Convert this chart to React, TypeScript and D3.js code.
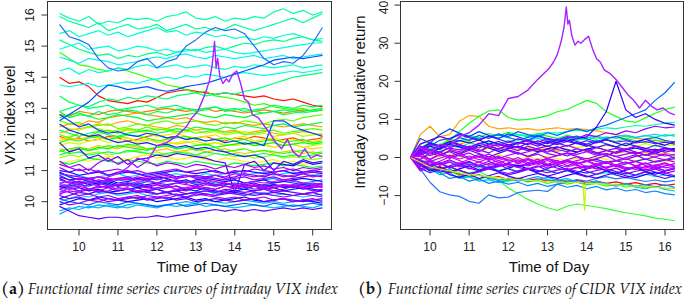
import React from 'react';
import * as d3 from 'd3';

// ---------- DATA ----------
const times = [9.5, 9.75, 10, 10.25, 10.5, 10.75, 11, 11.25, 11.5, 11.75, 12, 12.25, 12.5, 12.75, 13, 13.25, 13.5, 13.75, 14, 14.25, 14.5, 14.75, 15, 15.25, 15.5, 15.75, 16, 16.25];
const xTicks = [10, 11, 12, 13, 14, 15, 16];
const vixTicks = [10, 11, 12, 13, 14, 15, 16];
const cidrTicks = [-10, 0, 10, 20, 30, 40];

// Panel (a): intraday VIX level curves
const vixUpper = [
  [16.05, 15.9, 15.8, 15.95, 15.7, 15.8, 15.75, 15.9, 15.85, 15.9, 15.8, 15.95, 16.0, 16.1, 15.9, 15.85, 15.95, 15.8, 15.9, 15.85, 15.95, 15.9, 16.1, 16.2, 16.05, 16.15, 16.0, 16.1],
  [15.95, 15.8, 15.7, 15.6, 15.75, 15.5, 15.6, 15.7, 15.55, 15.6, 15.7, 15.5, 15.6, 15.7, 15.55, 15.6, 15.5, 15.55, 15.7, 15.6, 15.5, 15.6, 15.7, 15.8, 15.9, 15.75, 15.9, 16.05],
  [15.4, 15.5, 15.3, 15.4, 15.5, 15.35, 15.45, 15.3, 15.4, 15.5, 15.6, 15.45, 15.5, 15.35, 15.45, 15.4, 15.3, 15.35, 15.25, 15.3, 15.2, 15.3, 15.25, 15.35, 15.4, 15.3, 15.2, 15.25],
  [14.9, 15.0, 15.1, 14.9, 14.95, 15.0, 14.85, 14.9, 15.0, 14.95, 14.85, 14.9, 14.8, 14.85, 14.9, 14.8, 14.85, 14.9, 14.8, 14.75, 14.8, 14.85, 14.9, 14.95, 15.0, 15.05, 15.1, 15.1],
  [14.65, 14.55, 14.45, 14.6, 14.55, 14.5, 14.4, 14.45, 14.5, 14.6, 14.65, 14.6, 14.7, 14.75, 14.65, 14.6, 14.7, 14.65, 14.6, 14.65, 14.7, 14.6, 14.65, 14.7, 14.6, 14.65, 14.7, 14.75],
  [14.2, 14.3, 14.1, 14.25, 14.15, 14.2, 14.3, 14.25, 14.35, 14.4, 14.3, 14.35, 14.4, 14.3, 14.35, 14.4, 14.3, 14.25, 14.35, 14.3, 14.4, 14.35, 14.3, 14.35, 14.4, 14.3, 14.35, 14.4],
  [13.75, 13.7, 13.75, 13.8, 13.7, 13.75, 13.8, 13.85, 13.8, 13.9, 13.95, 14.0, 13.95, 14.05, 14.0, 14.1, 14.05, 14.0, 14.1, 14.15, 14.1, 14.05, 14.1, 14.15, 14.2, 14.15, 14.2, 14.25],
  [14.8, 14.6, 14.4, 14.35, 14.25, 14.2, 14.3, 14.2, 14.1, 14.0, 13.9, 13.75, 13.7, 13.6, 13.5, 13.55, 13.4, 13.35, 13.3, 13.2, 13.1, 13.15, 13.05, 13.0, 12.95, 13.0, 12.9, 12.95],
  [14.0, 13.8, 13.85, 13.7, 13.4, 13.25, 13.2, 13.15, 13.25, 13.2, 13.35, 13.5, 13.55, 13.6, 13.55, 13.5, 13.45, 13.5, 13.45, 13.4, 13.35, 13.4, 13.3, 13.25, 13.3, 13.2, 13.1, 13.05],
  [15.7, 15.3, 15.2, 15.05, 14.6, 14.3, 14.2, 14.25, 14.5, 14.6, 14.3, 14.5, 14.6, 15.0, 15.2, 15.45, 15.6, 15.5, 15.55, 15.4, 15.0, 14.6, 14.4, 14.5, 14.45, 14.7, 15.1, 15.6],
  [12.6, 12.8, 13.0, 13.2, 13.5, 13.75, 13.7, 13.6, 13.65, 13.7, 13.6, 13.55, 13.6, 13.7, 13.75, 13.8, 13.9, 14.0, 14.1, 14.2, 14.3, 14.4, 14.55, 14.6, 14.65, 14.6, 14.65, 14.7],
  [13.4, 13.2, 13.1, 13.0, 13.05, 13.1, 12.95, 13.0, 13.05, 13.1, 13.0, 13.05, 13.1, 13.0, 12.95, 13.0, 13.05, 12.9, 12.95, 13.0, 12.9, 12.85, 12.9, 12.95, 12.9, 12.85, 12.9, 12.95],
  [12.9, 13.0, 13.1, 13.05, 13.2, 13.3, 13.25, 13.35, 13.3, 13.4, 13.35, 13.3, 13.4, 13.45, 13.5, 13.4, 13.45, 13.5, 13.45, 13.55, 13.6, 13.7, 13.8, 13.9, 14.0, 14.05, 14.1, 14.15],
  [15.2, 15.05, 14.9, 14.8, 14.7, 14.75, 14.6, 14.7, 14.65, 14.75, 14.8, 14.7, 14.8, 14.9, 14.85, 14.95, 15.0, 14.9, 15.0, 15.1, 15.05, 15.15, 15.2, 15.15, 15.25, 15.3, 15.2, 15.15],
];
const vixUpperColors = ['#00FFAA', '#00FF99', '#00FFCC', '#00FFE0', '#00F0FF', '#00FFD5', '#00FFEE', '#33FF00', '#FF1100', '#1E6EFF', '#0050FF', '#00FF66', '#00FF77', '#00FF88'];

const vixMiddle = [
  [12.4, 12.5, 12.45, 12.6, 12.55, 12.7, 12.75, 12.8, 12.85, 12.8, 12.75, 12.7, 12.65, 12.7, 12.6, 12.55, 12.6, 12.5, 12.55, 12.5, 12.45, 12.5, 12.45, 12.4, 12.45, 12.5, 12.45, 12.4],
  [12.2, 12.3, 12.35, 12.4, 12.5, 12.45, 12.55, 12.6, 12.5, 12.45, 12.4, 12.35, 12.45, 12.4, 12.3, 12.35, 12.3, 12.25, 12.3, 12.2, 12.25, 12.3, 12.2, 12.15, 12.2, 12.25, 12.2, 12.15],
  [12.0, 12.1, 12.2, 12.1, 12.15, 12.25, 12.2, 12.3, 12.25, 12.2, 12.1, 12.15, 12.2, 12.1, 12.05, 12.1, 12.15, 12.0, 12.05, 12.1, 11.95, 12.0, 12.05, 11.95, 12.0, 11.9, 11.95, 12.0],
  [11.8, 11.9, 11.85, 11.95, 12.0, 11.9, 11.95, 12.05, 11.9, 11.95, 12.0, 11.85, 11.9, 11.95, 11.85, 11.8, 11.9, 11.85, 11.8, 11.85, 11.9, 11.8, 11.75, 11.8, 11.85, 11.75, 11.8, 11.85],
  [12.6, 12.5, 12.55, 12.4, 12.45, 12.5, 12.35, 12.4, 12.5, 12.45, 12.55, 12.6, 12.5, 12.55, 12.6, 12.5, 12.45, 12.55, 12.5, 12.6, 12.55, 12.5, 12.6, 12.65, 12.6, 12.7, 12.75, 12.8],
  [11.6, 11.7, 11.75, 11.65, 11.7, 11.8, 11.75, 11.85, 11.8, 11.7, 11.75, 11.8, 11.7, 11.75, 11.65, 11.7, 11.75, 11.6, 11.65, 11.7, 11.6, 11.65, 11.6, 11.55, 11.6, 11.65, 11.55, 11.6],
  [12.9, 12.7, 12.8, 12.75, 12.65, 12.7, 12.8, 12.75, 12.7, 12.6, 12.65, 12.7, 12.75, 12.8, 12.85, 12.75, 12.7, 12.8, 12.75, 12.7, 12.8, 12.85, 12.9, 12.8, 12.85, 12.9, 12.95, 13.0],
  [12.3, 12.2, 12.1, 12.2, 12.25, 12.15, 12.1, 12.2, 12.25, 12.3, 12.2, 12.25, 12.35, 12.3, 12.4, 12.35, 12.3, 12.4, 12.35, 12.45, 12.4, 12.35, 12.45, 12.5, 12.4, 12.45, 12.5, 12.55],
  [11.4, 11.5, 11.45, 11.55, 11.6, 11.5, 11.55, 11.6, 11.65, 11.55, 11.6, 11.5, 11.55, 11.6, 11.5, 11.45, 11.55, 11.5, 11.45, 11.5, 11.4, 11.45, 11.5, 11.4, 11.45, 11.4, 11.35, 11.4],
  [12.1, 12.0, 12.05, 11.95, 12.0, 12.1, 12.05, 11.95, 12.0, 12.1, 12.15, 12.05, 12.1, 12.0, 12.05, 12.1, 12.0, 11.95, 12.05, 12.0, 12.1, 12.05, 11.95, 12.0, 12.05, 11.95, 12.0, 12.05],
  [12.8, 12.75, 12.9, 12.85, 12.8, 12.9, 12.95, 12.9, 12.85, 12.9, 12.95, 13.0, 12.95, 12.9, 12.95, 13.0, 12.9, 12.95, 12.9, 12.85, 12.9, 12.95, 12.9, 12.85, 12.9, 12.95, 12.9, 12.95],
  [11.2, 11.3, 11.35, 11.3, 11.4, 11.45, 11.4, 11.35, 11.45, 11.5, 11.4, 11.45, 11.35, 11.4, 11.45, 11.35, 11.3, 11.4, 11.35, 11.3, 11.25, 11.3, 11.35, 11.25, 11.3, 11.2, 11.25, 11.3],
  [12.7, 12.8, 12.85, 12.75, 12.9, 12.8, 12.85, 12.95, 12.9, 12.8, 12.9, 12.85, 12.95, 13.0, 12.9, 12.95, 13.05, 12.95, 13.0, 12.9, 12.95, 13.0, 13.1, 13.05, 13.0, 13.1, 13.05, 13.1],
  [12.5, 12.3, 12.2, 12.1, 12.15, 12.0, 11.9, 11.95, 11.85, 11.9, 11.8, 11.85, 11.75, 11.8, 11.7, 11.75, 11.65, 11.6, 11.5, 11.45, 11.5, 11.4, 11.0, 11.3, 11.2, 11.35, 11.25, 11.3],
  [12.8, 12.6, 12.4, 12.5, 12.3, 12.2, 12.25, 12.15, 12.1, 12.2, 12.15, 12.05, 12.1, 12.0, 12.05, 11.95, 12.0, 11.9, 11.95, 11.85, 11.9, 11.8, 12.6, 12.6, 12.4, 12.3, 12.2, 12.1],
  [11.9, 12.0, 11.95, 12.05, 12.1, 12.0, 12.05, 12.15, 12.1, 12.05, 11.95, 12.0, 12.05, 12.1, 12.0, 11.95, 12.0, 12.05, 11.95, 12.0, 11.9, 11.95, 12.0, 11.9, 11.95, 12.0, 11.9, 11.95],
  [11.5, 11.6, 11.7, 11.65, 11.75, 11.7, 11.8, 11.75, 11.7, 11.65, 11.75, 11.8, 11.7, 11.75, 11.8, 11.85, 11.75, 11.8, 11.85, 11.9, 11.8, 11.85, 11.9, 11.8, 11.85, 11.9, 11.85, 11.9],
  [11.7, 11.65, 11.75, 11.7, 11.8, 11.75, 11.7, 11.8, 11.75, 11.7, 11.65, 11.7, 11.6, 11.65, 11.7, 11.6, 11.65, 11.7, 11.6, 11.55, 11.6, 11.65, 11.55, 11.6, 11.65, 11.55, 11.6, 11.55],
  [12.45, 12.35, 12.3, 12.4, 12.35, 12.25, 12.3, 12.35, 12.3, 12.25, 12.35, 12.3, 12.2, 12.25, 12.3, 12.2, 12.25, 12.15, 12.2, 12.25, 12.15, 12.2, 12.1, 12.15, 12.2, 12.1, 12.15, 12.2],
  [11.3, 11.2, 11.3, 11.4, 11.35, 11.3, 11.25, 11.35, 11.3, 11.25, 11.2, 11.3, 11.25, 11.2, 11.3, 11.25, 11.2, 11.15, 11.25, 11.2, 11.15, 11.2, 11.25, 11.15, 11.2, 11.15, 11.1, 11.15],
  [11.9, 11.6, 11.7, 11.4, 11.5, 11.3, 11.45, 11.2, 11.35, 11.4, 11.5, 11.45, 11.55, 11.5, 11.45, 11.4, 11.3, 11.25, 10.3, 11.2, 11.3, 11.0, 11.25, 11.2, 11.15, 11.3, 11.2, 11.25],
  [12.15, 12.05, 12.2, 12.1, 12.25, 12.3, 12.2, 12.35, 12.3, 12.4, 12.3, 12.35, 12.25, 12.3, 12.2, 12.25, 12.3, 12.2, 12.25, 12.15, 12.2, 12.25, 12.3, 12.2, 12.25, 12.3, 12.35, 12.3],
  [11.65, 11.55, 11.6, 11.5, 11.55, 11.6, 11.55, 11.65, 11.6, 11.55, 11.5, 11.55, 11.6, 11.55, 11.5, 11.6, 11.55, 11.5, 11.55, 11.45, 11.5, 11.55, 11.5, 11.45, 11.5, 11.45, 11.5, 11.55],
  [11.95, 12.05, 12.0, 12.1, 12.05, 12.0, 12.1, 12.05, 11.95, 12.0, 11.9, 11.95, 11.85, 11.9, 11.95, 11.85, 11.9, 11.8, 11.85, 11.9, 11.8, 11.85, 11.75, 11.8, 11.85, 11.75, 11.7, 11.75],
];
const vixMiddleColors = ['#FF9900', '#FFAA00', '#FFE000', '#CCFF00', '#66FF00', '#33FF00', '#00FF22', '#00FF44', '#99FF00', '#FF5500', '#FF7700', '#FFF000', '#00FF55', '#2222FF', '#0044FF', '#22FF00', '#00FF11', '#FFC000', '#AAFF00', '#00FF33', '#4400FF', '#55FF00', '#00FF44', '#FFD000'];

const vixLower = [
  [9.85, 9.7, 9.55, 9.5, 9.45, 9.5, 9.5, 9.45, 9.5, 9.5, 9.55, 9.5, 9.55, 9.6, 9.65, 9.7, 9.75, 9.7, 9.75, 9.7, 9.75, 9.7, 9.75, 9.8, 9.75, 9.8, 9.75, 9.8],
  [9.7, 9.8, 9.75, 9.85, 9.8, 9.9, 9.85, 9.8, 9.9, 9.85, 9.8, 9.9, 9.85, 9.9, 9.95, 9.85, 9.9, 9.85, 9.8, 9.85, 9.9, 9.85, 9.8, 9.85, 9.9, 9.85, 9.8, 9.9],
  [10.1, 10.0, 9.95, 9.9, 10.0, 9.95, 9.9, 10.0, 9.95, 9.9, 9.85, 9.9, 9.95, 9.85, 9.9, 9.95, 9.9, 9.85, 9.9, 9.95, 9.9, 9.85, 9.95, 9.9, 9.85, 9.9, 9.95, 9.9],
  [10.4, 10.3, 10.2, 10.25, 10.15, 10.2, 10.1, 10.15, 10.2, 10.1, 10.15, 10.2, 10.25, 10.15, 10.2, 10.25, 10.2, 10.3, 10.25, 10.2, 10.3, 10.25, 10.2, 10.15, 10.2, 10.25, 10.2, 10.15],
  [10.7, 10.6, 10.55, 10.65, 10.6, 10.5, 10.55, 10.6, 10.5, 10.45, 10.55, 10.5, 10.6, 10.55, 10.5, 10.6, 10.55, 10.5, 10.45, 10.5, 10.55, 10.5, 10.45, 10.5, 10.55, 10.5, 10.45, 10.5],
  [10.9, 10.85, 10.8, 10.75, 10.8, 10.7, 10.75, 10.8, 10.7, 10.75, 10.8, 10.85, 10.75, 10.8, 10.85, 10.8, 10.75, 10.7, 10.75, 10.8, 10.7, 10.75, 10.8, 10.7, 10.75, 10.8, 10.85, 10.8],
  [10.5, 10.4, 10.45, 10.35, 10.4, 10.3, 10.35, 10.4, 10.45, 10.35, 10.4, 10.3, 10.35, 10.4, 10.45, 10.4, 10.35, 10.3, 10.35, 10.4, 10.35, 10.4, 10.45, 10.35, 10.4, 10.45, 10.4, 10.35],
  [10.2, 10.1, 10.15, 10.05, 10.1, 10.0, 10.05, 10.1, 10.15, 10.05, 10.1, 10.15, 10.05, 10.1, 10.0, 10.05, 10.1, 10.05, 10.0, 10.05, 10.1, 10.0, 10.05, 10.1, 10.05, 10.0, 10.05, 10.1],
  [10.6, 10.5, 10.6, 10.7, 10.65, 10.6, 10.7, 10.65, 10.6, 10.7, 10.75, 10.65, 10.7, 10.6, 10.65, 10.7, 10.6, 10.65, 10.7, 10.6, 10.65, 10.7, 10.75, 10.65, 10.7, 10.6, 10.65, 10.7],
  [10.3, 10.45, 10.5, 10.4, 10.45, 10.5, 10.4, 10.45, 10.35, 10.4, 10.45, 10.5, 10.4, 10.45, 10.5, 10.45, 10.4, 10.5, 10.45, 10.55, 10.5, 10.45, 10.5, 10.55, 10.5, 10.45, 10.5, 10.55],
  [11.0, 10.95, 10.85, 10.9, 10.95, 10.85, 10.9, 10.95, 10.9, 10.85, 10.9, 10.95, 11.0, 10.95, 10.9, 10.95, 11.0, 10.9, 10.95, 11.0, 10.95, 10.9, 10.95, 11.0, 10.9, 10.95, 11.0, 10.95],
  [10.0, 10.1, 10.2, 10.15, 10.25, 10.3, 10.2, 10.25, 10.3, 10.2, 10.25, 10.3, 10.2, 10.25, 10.3, 10.35, 10.25, 10.3, 10.25, 10.2, 10.25, 10.3, 10.2, 10.25, 10.2, 10.15, 10.2, 10.25],
  [10.8, 10.7, 10.6, 10.4, 10.5, 10.45, 10.35, 10.4, 10.3, 10.35, 10.4, 10.3, 10.35, 10.25, 10.3, 10.35, 10.3, 10.4, 10.35, 10.3, 10.35, 10.4, 10.3, 10.35, 10.3, 10.25, 10.3, 10.35],
  [9.9, 10.0, 10.1, 10.05, 10.15, 10.1, 10.05, 10.0, 10.05, 10.1, 10.0, 10.05, 10.1, 10.15, 10.05, 10.1, 10.0, 10.05, 10.1, 10.15, 10.05, 10.0, 10.05, 10.1, 10.0, 10.05, 10.0, 9.95],
  [10.6, 10.65, 10.75, 10.7, 10.8, 10.75, 10.7, 10.75, 10.65, 10.7, 10.6, 10.65, 10.7, 10.6, 10.65, 10.7, 10.65, 10.6, 10.55, 10.6, 10.65, 10.6, 10.65, 10.7, 10.65, 10.6, 10.55, 10.6],
  [10.4, 10.5, 10.55, 10.5, 10.6, 10.55, 10.5, 10.6, 10.55, 10.65, 10.6, 10.55, 10.6, 10.65, 10.55, 10.6, 10.5, 10.55, 10.6, 10.55, 10.5, 10.55, 10.6, 10.65, 10.6, 10.55, 10.6, 10.55],
  [11.2, 11.1, 11.0, 11.05, 10.95, 11.0, 11.05, 10.95, 11.0, 10.9, 10.95, 11.0, 11.05, 10.95, 11.0, 11.05, 10.95, 10.9, 11.0, 10.95, 11.05, 11.0, 10.95, 11.0, 11.05, 10.95, 11.0, 11.05],
  [9.6, 9.75, 9.85, 9.8, 9.9, 9.85, 9.8, 9.9, 9.95, 9.9, 9.85, 9.9, 9.95, 10.0, 9.95, 10.05, 10.0, 9.95, 10.0, 10.05, 10.0, 9.95, 10.0, 9.95, 10.0, 10.05, 10.0, 10.05],
  [10.1, 10.2, 10.3, 10.25, 10.35, 10.3, 10.25, 10.3, 10.35, 10.3, 10.25, 10.3, 10.2, 10.25, 10.3, 10.25, 10.2, 10.25, 10.3, 10.25, 10.2, 10.25, 10.3, 10.25, 10.2, 10.25, 10.3, 10.2],
  [11.3, 11.1, 11.2, 11.0, 11.25, 11.4, 11.2, 11.35, 11.1, 11.3, 11.15, 11.25, 11.2, 11.1, 11.2, 11.15, 11.05, 11.15, 11.1, 11.2, 11.1, 11.15, 11.05, 11.1, 11.0, 11.1, 11.05, 11.1],
  [10.75, 10.6, 10.65, 10.55, 10.6, 10.65, 10.55, 10.6, 10.5, 10.55, 10.6, 10.7, 10.65, 10.6, 10.7, 10.75, 10.7, 10.65, 10.7, 10.6, 10.65, 10.7, 10.6, 10.65, 10.7, 10.75, 10.7, 10.65],
  [10.9, 10.8, 10.85, 10.75, 10.8, 10.85, 10.9, 10.8, 10.85, 10.9, 10.95, 10.85, 10.9, 10.85, 10.8, 10.9, 10.85, 10.9, 10.95, 10.85, 10.9, 10.95, 10.85, 10.9, 10.95, 10.9, 10.85, 10.9],
  [10.55, 10.45, 10.35, 10.4, 10.3, 10.35, 10.45, 10.4, 10.3, 10.35, 10.25, 10.3, 10.4, 10.35, 10.45, 10.4, 10.3, 10.35, 10.45, 10.5, 10.4, 10.45, 10.35, 10.4, 10.5, 10.45, 10.35, 10.4],
  [10.25, 10.35, 10.3, 10.4, 10.35, 10.45, 10.55, 10.5, 10.6, 10.5, 10.55, 10.45, 10.5, 10.4, 10.45, 10.55, 10.5, 10.6, 10.55, 10.45, 10.5, 10.4, 10.45, 10.55, 10.5, 10.6, 10.55, 10.45],
  [10.95, 10.8, 10.7, 10.75, 10.65, 10.7, 10.6, 10.65, 10.75, 10.7, 10.8, 10.75, 10.65, 10.7, 10.6, 10.65, 10.55, 10.6, 10.5, 10.55, 10.6, 10.5, 10.55, 10.45, 10.5, 10.4, 10.45, 10.5],
  [10.0, 9.9, 9.95, 10.05, 10.0, 10.1, 10.05, 10.15, 10.1, 10.2, 10.15, 10.1, 10.2, 10.15, 10.25, 10.2, 10.15, 10.1, 10.15, 10.05, 10.1, 10.15, 10.05, 10.1, 10.0, 10.05, 10.1, 10.0],
  [10.85, 10.7, 10.75, 10.65, 10.55, 10.6, 10.5, 10.55, 10.45, 10.5, 10.4, 10.45, 10.5, 10.4, 10.35, 10.45, 10.4, 10.5, 10.45, 10.4, 10.5, 10.45, 10.55, 10.5, 10.45, 10.55, 10.5, 10.6],
  [11.1, 10.95, 11.05, 10.9, 11.0, 10.85, 10.95, 11.0, 10.9, 10.8, 10.85, 10.9, 10.8, 10.85, 10.75, 10.8, 10.85, 10.75, 10.8, 10.9, 10.85, 10.8, 10.9, 10.85, 10.8, 10.9, 10.95, 10.9],
  [10.45, 10.55, 10.65, 10.6, 10.7, 10.65, 10.75, 10.7, 10.8, 10.75, 10.7, 10.8, 10.75, 10.85, 10.8, 10.75, 10.85, 10.8, 10.9, 10.85, 10.8, 10.85, 10.9, 10.8, 10.85, 10.9, 10.8, 10.85],
];
const vixLowerColors = ['#5500FF', '#00BBFF', '#0066FF', '#9900FF', '#AA00FF', '#8800FF', '#0000FF', '#6600FF', '#0088FF', '#BB00FF', '#3300FF', '#00CCFF', '#7700FF', '#1100FF', '#CC00FF', '#0044FF', '#9900FF', '#00AAFF', '#4400FF', '#A000FF', '#2200FF', '#00DDFF', '#8800FF', '#AA00FF', '#3300FF', '#9900FF', '#0022FF', '#7700FF', '#B000FF'];

// The day with the afternoon spike (finer time resolution)
const spikeTimes = [9.5, 9.75, 10, 10.25, 10.5, 10.75, 11, 11.25, 11.5, 11.75, 12, 12.25, 12.5, 12.75, 12.9, 13.05, 13.15, 13.25, 13.35, 13.42, 13.48, 13.52, 13.56, 13.62, 13.7, 13.78, 13.85, 13.95, 14.05, 14.15, 14.25, 14.35, 14.45, 14.6, 14.75, 14.9, 15.05, 15.2, 15.35, 15.5, 15.65, 15.8, 15.95, 16.1, 16.25];
const spikeVix = [10.2, 10.5, 10.3, 10.6, 10.5, 10.8, 10.9, 11.1, 11.4, 11.3, 11.8, 11.9, 12.1, 12.4, 12.7, 12.9, 13.2, 13.5, 13.9, 14.4, 15.15, 14.3, 14.6, 14.0, 13.8, 13.95, 13.85, 14.1, 14.2, 13.8, 13.3, 13.2, 12.8, 12.7, 12.45, 12.2, 11.9, 11.7, 12.0, 11.6, 11.45, 11.7, 11.4, 11.5, 11.45];
const spikeCidr = [0, 2.5, 1.0, 3.5, 2.8, 5.5, 6.5, 8.5, 11.5, 11.0, 15.5, 16.0, 17.7, 20.5, 22.0, 23.5, 25.0, 27.0, 30.5, 34.0, 39.5, 35.0, 36.0, 32.0, 29.5, 30.5, 30.0, 31.0, 31.8, 28.5, 26.0, 25.0, 23.0, 22.0, 20.5, 18.5, 16.5, 15.0, 13.0, 15.0, 13.5, 12.5, 13.0, 11.8, 11.2];
const spikeColor = '#AA22FF';

// Panel (b): cumulative intraday returns
const cidrCluster = [
  [0, 2.5, 1.8, 3.0, 2.2, 1.5, 2.8, 2.0, 1.2, 2.5, 1.8, 0.9, 1.5, 2.2, 1.0, 0.5, 1.2, 0.8, 1.5, 0.6, 1.0, 0.3, 0.9, 1.4, 0.6, 1.1, 0.4, 0.8],
  [0, -1.5, -0.8, -2.0, -1.2, -2.5, -1.8, -2.2, -3.0, -2.4, -1.8, -2.6, -3.2, -2.5, -2.0, -2.8, -3.4, -2.7, -2.2, -3.0, -2.5, -1.9, -2.6, -3.1, -2.4, -2.0, -2.7, -2.3],
  [0, 1.0, 3.5, 2.8, 4.0, 3.2, 2.5, 3.8, 3.0, 2.2, 3.1, 2.6, 1.8, 2.4, 3.0, 2.1, 1.5, 2.3, 1.7, 1.0, 1.8, 2.4, 1.6, 1.0, 1.7, 2.2, 1.4, 1.9],
  [0, -3.0, -2.2, -3.5, -4.0, -3.2, -4.5, -3.8, -3.0, -3.6, -4.2, -3.5, -2.8, -3.4, -4.0, -3.3, -2.9, -3.6, -4.1, -3.4, -3.0, -3.7, -4.3, -3.6, -3.1, -3.8, -4.2, -3.5],
  [0, 0.5, -0.5, 0.8, -0.2, 0.6, -0.4, 0.3, -0.8, 0.1, -0.6, -1.2, -0.5, -1.0, -0.3, -0.9, -1.5, -0.8, -0.2, -1.0, -1.6, -0.9, -0.4, -1.1, -1.7, -1.0, -0.5, -1.2],
  [0, 3.5, 4.5, 5.5, 4.8, 6.0, 5.2, 4.5, 5.6, 4.8, 4.0, 4.9, 4.2, 3.5, 4.3, 3.8, 3.0, 3.9, 3.3, 2.6, 3.4, 2.8, 2.1, 3.0, 2.4, 1.8, 2.5, 2.0],
  [0, -2.0, -3.5, -2.8, -4.5, -5.2, -4.4, -5.5, -4.8, -4.0, -4.9, -5.6, -4.8, -4.2, -5.0, -5.5, -4.7, -4.1, -4.9, -5.4, -4.6, -4.0, -4.8, -5.3, -4.5, -3.9, -4.6, -5.0],
  [0, 2.0, 1.0, 2.5, 3.5, 2.8, 2.0, 3.2, 2.5, 1.6, 2.4, 3.0, 2.2, 1.5, 2.3, 2.8, 2.0, 1.4, 2.2, 2.7, 1.9, 1.2, 2.0, 2.5, 1.8, 1.1, 1.9, 2.4],
  [0, -0.8, -2.0, -1.4, -2.6, -2.0, -1.2, -2.1, -2.8, -2.2, -1.5, -2.4, -1.8, -1.2, -2.0, -1.5, -0.8, -1.6, -1.0, -0.5, -1.3, -0.8, -1.5, -1.0, -0.4, -1.2, -0.7, -0.3],
  [0, 1.5, 3.0, 4.5, 5.0, 6.2, 5.5, 4.8, 5.5, 6.0, 5.2, 4.6, 5.3, 5.8, 5.0, 4.4, 5.2, 5.6, 4.9, 4.2, 5.0, 5.5, 4.7, 4.0, 4.8, 5.3, 4.5, 4.0],
  [0, -1.0, -2.5, -3.8, -3.0, -4.2, -5.0, -4.5, -5.5, -6.0, -5.4, -6.2, -5.6, -5.0, -5.8, -6.4, -5.9, -6.5, -7.0, -6.4, -6.8, -7.3, -6.8, -7.5, -7.1, -7.7, -7.2, -7.8],
  [0, 0.8, 2.0, 1.5, 2.6, 3.4, 2.8, 3.6, 4.2, 3.5, 4.4, 3.8, 4.6, 5.0, 4.3, 4.9, 5.3, 4.7, 5.2, 5.6, 5.0, 5.5, 5.9, 5.3, 5.7, 6.1, 5.6, 6.0],
  [0, -1.2, -0.5, -1.8, -1.0, -2.2, -1.6, -2.8, -2.2, -3.4, -2.8, -3.6, -3.0, -3.8, -3.2, -4.0, -3.5, -4.2, -3.8, -4.5, -4.0, -4.6, -4.2, -4.8, -4.4, -5.0, -4.6, -5.2],
  [0, 1.2, 2.5, 2.0, 3.2, 2.6, 3.8, 3.2, 4.2, 3.6, 4.4, 3.9, 4.6, 4.0, 4.8, 4.3, 5.0, 4.5, 5.3, 4.8, 5.4, 5.0, 5.6, 5.2, 5.8, 5.3, 6.0, 5.6],
  [0, -2.2, -3.0, -4.0, -3.5, -4.8, -5.2, -5.6, -5.0, -5.8, -6.2, -5.7, -6.4, -6.0, -6.8, -6.3, -7.0, -6.5, -7.2, -6.8, -7.5, -7.0, -7.8, -7.3, -8.0, -7.6, -8.3, -7.9],
  [0, 0.5, 1.5, 0.8, 1.8, 1.2, 2.2, 1.6, 2.4, 1.8, 2.6, 2.0, 2.8, 2.2, 3.0, 2.4, 3.2, 2.6, 3.0, 2.5, 3.2, 2.7, 3.4, 2.9, 3.6, 3.0, 3.4, 3.1],
  [0, 6.0, 8.2, 5.5, 4.5, 3.5, 4.2, 3.0, 2.5, 3.4, 2.8, 2.0, 2.6, 1.8, 2.4, 1.6, 2.2, 1.5, 2.0, 1.2, 1.8, 1.0, 1.6, 0.8, 1.4, 0.6, 1.2, 0.5],
  [0, -1.8, -3.0, -2.4, -3.6, -4.5, -5.0, -4.6, -5.4, -5.0, -5.8, -5.5, -6.0, -5.6, -6.2, -5.8, -6.4, -6.0, -6.6, -6.2, -6.8, -6.4, -7.0, -6.6, -7.2, -6.8, -7.4, -7.0],
  [0, -0.5, 0.6, -0.2, 0.9, 0.3, -0.4, 0.5, -0.3, 0.7, 0.0, -0.6, 0.2, -0.5, 0.4, -0.3, -0.9, -0.2, -0.7, 0.1, -0.5, -1.1, -0.4, -0.9, -0.2, -0.8, -1.3, -0.6],
  [0, 2.5, 4.0, 3.2, 4.8, 4.2, 5.8, 5.2, 6.3, 5.7, 6.6, 6.0, 5.4, 6.2, 5.6, 5.0, 5.8, 5.2, 4.6, 5.4, 4.8, 4.2, 5.0, 4.4, 3.8, 4.6, 4.0, 3.6],
  [0, 5.0, 3.8, 6.0, 7.5, 6.4, 5.5, 6.8, 5.8, 5.0, 6.2, 5.4, 4.6, 5.6, 4.8, 4.0, 5.0, 4.2, 3.5, 4.4, 3.6, 2.8, 3.8, 3.0, 2.3, 3.2, 2.6, 2.0],
  [0, -3.5, -2.5, -1.5, -2.8, -1.8, -3.0, -2.0, -1.0, -2.2, -1.4, -0.6, -1.8, -1.0, -0.2, -1.4, -0.6, 0.2, -1.0, -0.3, 0.5, -0.8, 0.0, 0.7, -0.5, 0.2, 0.9, -0.2],
  [0, 1.8, 0.5, 1.5, 0.2, 1.2, -0.2, 0.8, -0.6, 0.4, -1.0, 0.0, -1.4, -0.4, -1.8, -0.8, -2.2, -1.2, -2.5, -1.6, -2.8, -2.0, -3.0, -2.4, -3.3, -2.6, -3.5, -2.9],
  [0, -0.5, 1.2, 0.4, 1.8, 1.0, 2.4, 1.6, 3.0, 2.2, 3.4, 2.6, 3.8, 3.0, 4.0, 3.4, 4.2, 3.6, 4.4, 3.8, 4.6, 4.0, 4.4, 3.8, 4.2, 3.6, 4.0, 3.5],
  [0, -2.5, -1.2, -2.0, -0.8, -1.6, -0.4, -1.2, -2.0, -1.4, -0.6, -1.5, -2.2, -1.6, -0.8, -1.8, -2.5, -1.8, -1.0, -2.0, -2.6, -1.9, -1.2, -2.2, -2.8, -2.0, -1.4, -2.3],
  [0, -1.5, -3.0, -4.5, -4.0, -5.5, -5.0, -6.2, -5.8, -6.6, -6.0, -5.5, -6.3, -5.8, -5.2, -6.0, -5.5, -6.4, -6.8, -6.2, -7.0, -7.5, -7.0, -7.8, -8.2, -7.6, -8.4, -8.8],
  [0, 1.2, -0.5, 0.8, 1.5, 0.4, 1.2, 0.0, 0.9, -0.3, 0.6, 1.3, 0.2, 0.9, -0.2, 0.5, 1.1, 0.3, -0.4, 0.4, 1.0, 0.2, -0.5, 0.3, 0.8, 0.0, -0.6, 0.2],
  [0, -1.0, -2.2, -1.5, -0.6, -1.8, -1.0, -2.4, -1.6, -0.8, -1.9, -2.6, -1.8, -1.1, -2.3, -1.5, -0.9, -2.0, -2.8, -2.0, -1.3, -2.4, -1.7, -1.0, -2.1, -2.9, -2.2, -1.6],
  [0, 3.0, 2.0, 1.2, 2.6, 3.4, 2.4, 1.5, 2.8, 3.6, 2.6, 1.8, 3.0, 2.2, 1.4, 2.5, 3.2, 2.3, 1.6, 2.6, 1.9, 1.2, 2.2, 2.9, 2.0, 1.4, 2.3, 1.7],
  [0, -2.0, -1.0, -3.0, -2.2, -1.4, -2.8, -3.5, -2.6, -1.8, -3.0, -3.8, -3.0, -2.2, -3.4, -4.2, -3.3, -2.5, -3.6, -4.4, -3.5, -2.8, -3.9, -4.6, -3.7, -3.0, -4.0, -4.8],
  [0, 0.6, 1.8, 0.9, -0.2, 0.8, 1.9, 1.0, 0.1, 1.1, 2.0, 1.2, 0.3, 1.3, 2.1, 1.2, 0.4, 1.4, 2.2, 1.3, 0.5, 1.5, 2.3, 1.4, 0.6, 1.6, 2.4, 1.5],
  [0, -0.6, -1.8, -1.0, 0.2, -0.8, -2.0, -1.2, -0.2, -1.3, -2.4, -1.5, -0.6, -1.7, -2.8, -1.9, -1.0, -2.1, -3.0, -2.2, -1.3, -2.3, -3.2, -2.4, -1.5, -2.5, -3.4, -2.6],
  [0, -1.5, -3.5, -2.5, -3.8, -3.0, -2.2, -3.3, -2.5, -3.6, -2.8, -2.0, -3.0, -3.8, -2.9, -2.1, -3.2, -4.0, -3.0, -2.4, -3.5, -4.2, -3.3, -2.6, -3.7, -4.4, -3.6, -2.9],
  [0, 2.2, 3.8, 3.0, 4.2, 3.4, 2.6, 3.6, 4.4, 3.5, 2.8, 3.8, 4.5, 3.6, 2.9, 3.9, 4.6, 3.7, 3.0, 4.0, 4.7, 3.8, 3.1, 4.1, 4.8, 3.9, 3.2, 4.2],
  [0, 0.3, -1.0, -0.2, 0.6, -0.4, 0.4, -0.6, 0.2, -0.8, 0.0, -1.0, -0.2, -1.2, -0.4, -1.4, -0.6, -1.6, -0.8, -1.8, -1.0, -2.0, -1.2, -2.2, -1.4, -2.4, -1.6, -2.5],
  [0, -2.8, -4.0, -3.2, -2.4, -3.4, -4.2, -3.6, -2.8, -3.8, -4.6, -3.9, -3.1, -4.1, -4.9, -4.2, -3.4, -4.4, -5.1, -4.4, -3.6, -4.6, -5.3, -4.6, -3.8, -4.8, -5.5, -4.8],
];
const cidrClusterColors = ['#9900FF', '#AA00FF', '#8800FF', '#7700FF', '#BB00FF', '#5500FF', '#3300FF', '#0000FF', '#0033FF', '#0066FF', '#0099FF', '#00CCFF', '#00FFCC', '#00FF66', '#33FF00', '#CCFF00', '#FF9900', '#FF0000', '#FFEE00', '#00FF22', '#0044FF', '#9900FF', '#AA00FF', '#6600FF', '#CC00FF', '#00BBFF', '#9900FF', '#8800FF', '#AA00FF', '#7700FF', '#6600FF', '#BB00FF', '#0000FF', '#2200FF', '#CC00FF', '#5500FF'];

const cidrOutliers = [
  [0, 1.0, 2.2, 3.0, 4.5, 6.8, 9.0, 10.8, 12.2, 12.5, 10.5, 9.8, 10.0, 10.4, 11.0, 12.0, 12.6, 13.8, 15.0, 14.2, 12.0, 10.8, 9.6, 9.2, 10.4, 11.6, 12.6, 13.2],
  [0, 3.5, 4.5, 5.5, 6.0, 9.5, 11.0, 10.8, 8.2, 7.5, 7.8, 7.4, 7.6, 7.2, 7.5, 7.8, 7.4, 7.6, 7.3, 7.0, 6.5, 6.0, 5.5, 5.0, 4.8, 4.5, 4.2, 4.0],
  [0, -3.0, -6.5, -9.0, -9.8, -10.2, -11.5, -12.0, -9.8, -10.6, -10.4, -9.2, -8.8, -8.6, -8.9, -7.0, -6.5, -5.8, -6.2, -5.5, -5.0, -5.6, -5.2, -5.8, -6.3, -5.9, -6.4, -6.0],
  [0, -1.5, -3.0, -4.0, -5.5, -5.0, -6.2, -5.6, -6.8, -6.2, -7.0, -6.5, -7.4, -6.8, -7.6, -7.0, -7.8, -7.3, -8.2, -7.6, -8.5, -8.0, -8.8, -8.4, -9.2, -8.8, -9.5, -9.8],
  [0, -1.0, -2.0, -3.0, -2.5, -3.5, -4.0, -3.6, -5.0, -6.0, -8.0, -9.5, -11.0, -12.2, -13.2, -13.9, -12.8, -12.2, -12.6, -13.0, -13.4, -14.0, -14.5, -14.9, -15.3, -15.9, -16.2, -16.6],
  [0, 1.5, 3.0, 2.2, 3.6, 4.5, 3.8, 4.6, 3.5, 4.2, 3.2, 4.0, 3.4, 4.4, 3.6, 4.8, 4.2, 5.0, 5.4, 8.0, 12.0, 20.0, 12.5, 10.5, 11.5, 10.0, 9.0, 8.5],
  [0, 2.0, 3.5, 2.8, 4.0, 5.2, 4.5, 5.8, 5.0, 6.2, 5.5, 6.8, 6.0, 5.4, 6.5, 5.8, 6.8, 7.5, 6.8, 7.8, 8.5, 9.5, 10.5, 11.5, 12.5, 15.0, 17.0, 19.8],
  [0, 1.0, 2.0, 1.5, 2.5, 2.0, 3.0, 2.5, 3.5, 3.0, 4.0, 3.5, 4.5, 4.0, 5.0, 4.5, 5.5, 5.0, 6.0, 5.5, 6.5, 6.0, 7.0, 6.5, 7.5, 8.2, 7.8, 8.0],
  [0, 1.2, 2.4, 3.0, 3.6, 4.2, 4.6, 5.0, 5.4, 5.2, 5.6, 6.0, 5.8, 6.2, 6.6, 6.4, 6.8, 7.2, 7.0, 7.4, 7.8, 7.6, 8.0, 8.4, 8.2, 8.6, 9.0, 9.2],
];
const cidrOutlierColors = ['#22FF22', '#FFA500', '#2277FF', '#0088FF', '#33FF33', '#2A00FF', '#0066FF', '#9900FF', '#00FFAA'];

// A day with a one-minute drop around 14:00 in panel (b)
const dipTimes = [9.5, 10, 10.5, 11, 11.5, 12, 12.5, 13, 13.5, 13.9, 13.95, 13.97, 14.5, 15, 15.5, 16, 16.25];
const dipCidr = [0, -2.5, -3.5, -4.5, -5.0, -5.6, -6.0, -6.3, -6.5, -6.6, -13.8, -6.7, -7.0, -7.4, -7.6, -8.0, -8.2];
const dipColor = '#CCEE00';

// ---------- DRAWING ----------
type Curve = { t: number[]; v: number[]; c: string };

const SANS = "'Liberation Sans', Arial, Helvetica, sans-serif";
const SERIF = "'TeX Gyre Pagella', 'Palatino Linotype', 'Liberation Serif', 'DejaVu Serif', serif";

function gather(groups: number[][][], colors: string[][]): Curve[] {
  const out: Curve[] = [];
  groups.forEach((g, gi) => g.forEach((v, i) => out.push({ t: times, v, c: colors[gi][i % colors[gi].length] })));
  const hue = (c: string) => {
    const h = d3.hsl(c).h;
    return isNaN(h) ? 0 : h;
  };
  return out.sort((a, b) => hue(a.c) - hue(b.c));
}

type PanelProps = {
  id: string;
  curves: Curve[];
  x: d3.ScaleLinear<number, number>;
  y: d3.ScaleLinear<number, number>;
  box: { l: number; r: number; t: number; b: number };
  yTicks: number[];
  yTickX: number;
  yTitle: string;
  yTitleX: number;
  yTitleY: number;
  xTitleX: number;
  capLabel: string;
  capLabelX: number;
  capLabelLen: number;
  capText: string;
  capTextX: number;
  capTextLen: number;
};

function Panel(p: PanelProps) {
  const line = d3
    .line<[number, number]>()
    .x((d) => p.x(d[0]))
    .y((d) => p.y(d[1]));
  const { l, r, t, b } = p.box;
  return (
    <g>
      <defs>
        <clipPath id={p.id}>
          <rect x={l} y={t} width={r - l} height={b - t} />
        </clipPath>
      </defs>
      <g clipPath={`url(#${p.id})`}>
        {p.curves.map((c, i) => (
          <path
            key={i}
            d={line(d3.zip(c.t, c.v) as [number, number][]) || ''}
            fill="none"
            stroke={c.c}
            strokeWidth={c.c === spikeColor ? 1.4 : 1.2}
            strokeLinejoin="round"
          />
        ))}
      </g>
      <rect x={l} y={t} width={r - l} height={b - t} fill="none" stroke="#333" strokeWidth={1} />
      {xTicks.map((v) => (
        <g key={'x' + v}>
          <line x1={p.x(v)} x2={p.x(v)} y1={b} y2={b + 6} stroke="#333" />
          <text x={p.x(v)} y={251} textAnchor="middle" fontFamily={SANS} fontSize={12} fill="#222">
            {v}
          </text>
        </g>
      ))}
      {p.yTicks.map((v) => (
        <g key={'y' + v}>
          <line x1={l - 6} x2={l} y1={p.y(v)} y2={p.y(v)} stroke="#333" />
          <text
            transform={`translate(${p.yTickX},${Math.max(p.y(v), 7.5)}) rotate(-90)`}
            textAnchor="middle"
            fontFamily={SANS}
            fontSize={12}
            fill="#222"
          >
            {v < 0 ? '\u2212' + Math.abs(v) : v}
          </text>
        </g>
      ))}
      <text x={p.xTitleX} y={271.5} textAnchor="middle" fontFamily={SANS} fontSize={15} fill="#111">
        Time of Day
      </text>
      <text
        transform={`translate(${p.yTitleX},${p.yTitleY}) rotate(-90)`}
        textAnchor="middle"
        fontFamily={SANS}
        fontSize={15}
        fill="#111"
      >
        {p.yTitle}
      </text>
      <text
        x={p.capLabelX}
        y={294}
        fontFamily={SERIF}
        fontWeight="bold"
        fontSize={17}
        fill="#111"
        textLength={p.capLabelLen}
        lengthAdjust="spacingAndGlyphs"
      >
        {p.capLabel}
      </text>
      <text
        x={p.capTextX}
        y={294}
        fontFamily={SERIF}
        fontStyle="italic"
        fontSize={15}
        fill="#111"
        textLength={p.capTextLen}
        lengthAdjust="spacingAndGlyphs"
      >
        {p.capText}
      </text>
    </g>
  );
}

export default function App() {
  const xa = d3.scaleLinear().domain([10, 16]).range([79, 312.7]);
  const ya = d3.scaleLinear().domain([10, 16]).range([201.7, 15]);
  const xb = d3.scaleLinear().domain([10, 16]).range([430, 665]);
  const yb = d3.scaleLinear().domain([-10, 40]).range([195.6, 5.1]);

  const curvesA: Curve[] = [
    ...gather([vixUpper, vixMiddle, vixLower], [vixUpperColors, vixMiddleColors, vixLowerColors]),
    { t: spikeTimes, v: spikeVix, c: spikeColor },
  ];
  const curvesB: Curve[] = [
    ...gather([cidrCluster, cidrOutliers], [cidrClusterColors, cidrOutlierColors]),
    { t: dipTimes, v: dipCidr, c: dipColor },
    { t: spikeTimes, v: spikeCidr, c: spikeColor },
  ];

  return (
    <svg
      width={685}
      height={299}
      viewBox="0 0 685 299"
      style={{ position: 'absolute', left: 0, top: 0, background: '#fff' }}
    >
      <rect x={0} y={0} width={685} height={299} fill="#fff" />
      <Panel
        id="clipA"
        curves={curvesA}
        x={xa}
        y={ya}
        box={{ l: 47.5, r: 331.5, t: 1.5, b: 229.5 }}
        yTicks={vixTicks}
        yTickX={34.3}
        yTitle="VIX index level"
        yTitleX={15}
        yTitleY={115}
        xTitleX={197}
        capLabel="(a)"
        capLabelX={1}
        capLabelLen={24}
        capText="Functional time series curves of intraday VIX index"
        capTextX={28}
        capTextLen={310}
      />
      <Panel
        id="clipB"
        curves={curvesB}
        x={xb}
        y={yb}
        box={{ l: 400.5, r: 683.5, t: 1.5, b: 229.5 }}
        yTicks={cidrTicks}
        yTickX={388.3}
        yTitle="Intraday cumulative return"
        yTitleX={365}
        yTitleY={102}
        xTitleX={549}
        capLabel="(b)"
        capLabelX={358}
        capLabelLen={25}
        capText="Functional time series curves of CIDR VIX index"
        capTextX={388}
        capTextLen={294}
      />
    </svg>
  );
}
